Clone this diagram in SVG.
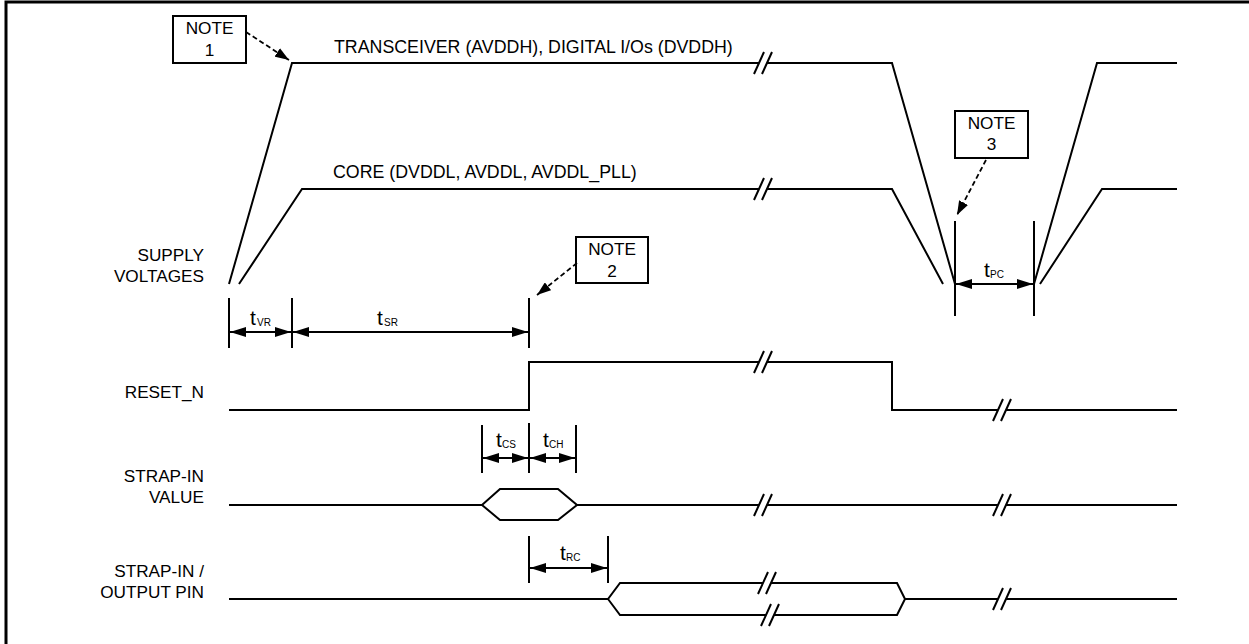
<svg xmlns="http://www.w3.org/2000/svg" width="1249" height="644" viewBox="0 0 1249 644">
<style>
.w{fill:none;stroke:#000;stroke-width:2;stroke-linejoin:miter}
.m{fill:none;stroke:#000;stroke-width:2}
.d{fill:none;stroke:#000;stroke-width:1.8;stroke-dasharray:5,3}
.dim{fill:none;stroke:#000;stroke-width:2;marker-start:url(#ah);marker-end:url(#ah)}
.box{fill:#fff;stroke:#000;stroke-width:2}
text{font-family:"Liberation Sans",Arial,sans-serif;font-size:17.2px;fill:#000}
.top{font-size:17.8px}
.r{text-anchor:end}
.c{text-anchor:middle}
.t{font-size:21px}
.sub{font-size:10px}
</style>
<defs>
<marker id="ah" viewBox="0 0 16 10" refX="16" refY="5" markerWidth="16" markerHeight="10" markerUnits="userSpaceOnUse" orient="auto-start-reverse">
<path d="M0,0 L16,5 L0,10 Z" fill="#000"/>
</marker>
<marker id="ad" viewBox="0 0 14 10" refX="14" refY="5" markerWidth="14" markerHeight="10" markerUnits="userSpaceOnUse" orient="auto">
<path d="M0,0 L14,5 L0,10 Z" fill="#000"/>
</marker>
<g id="brk"><path d="M-9,11 L1,-11 M-1,11 L9,-11" fill="none" stroke="#000" stroke-width="2"/></g>
</defs>
<rect x="0" y="0" width="1249" height="644" fill="#fff"/>
<path d="M6,644 V2 H1249" fill="none" stroke="#000" stroke-width="3"/>

<g id="labels">
<text class="r" x="204" y="261">SUPPLY</text>
<text class="r" x="204" y="282">VOLTAGES</text>
<text class="r" x="204" y="398">RESET_N</text>
<text class="r" x="204" y="482">STRAP-IN</text>
<text class="r" x="204" y="503">VALUE</text>
<text class="r" x="204" y="577">STRAP-IN /</text>
<text class="r" x="204" y="598">OUTPUT PIN</text>
<text class="top" x="334" y="53">TRANSCEIVER (AVDDH), DIGITAL I/Os (DVDDH)</text>
<text class="top" x="333" y="178">CORE (DVDDL, AVDDL, AVDDL_PLL)</text>
</g>

<g id="supply">
<path class="w" d="M229,284 L292,63 H759 M767,63 H892 L955,284"/>
<path class="w" d="M1034,284 L1097,63 H1177"/>
<path class="w" d="M239,284 L302,189 H759 M767,189 H892 L943,284"/>
<path class="w" d="M1040,284 L1102,189 H1177"/>
<use href="#brk" x="763" y="63"/>
<use href="#brk" x="763" y="189"/>
</g>

<g id="reset">
<path class="w" d="M229,410 H529 V362 H759 M767,362 H892 V410 H998 M1006,410 H1177"/>
<use href="#brk" x="763" y="362"/>
<use href="#brk" x="1002" y="410"/>
</g>

<g id="strapvalue">
<path class="w" d="M229,505 H482 L500,489 H558 L577,505 L558,520 H500 L482,505 M577,505 H759 M767,505 H998 M1006,505 H1177"/>
<use href="#brk" x="763" y="505"/>
<use href="#brk" x="1002" y="505"/>
</g>

<g id="strappin">
<path class="w" d="M229,599 H608 L620,583 H763 M771,583 H897 L905,599 L897,615 H774 M766,615 H620 L608,599 M905,599 H998 M1006,599 H1177"/>
<use href="#brk" x="767" y="583"/>
<use href="#brk" x="770" y="615"/>
<use href="#brk" x="1002" y="599"/>
</g>

<g id="timing">
<path class="m" d="M229,298 V348 M292,298 V348 M529,298 V348"/>
<line class="dim" x1="230" y1="332" x2="291" y2="332"/>
<line class="dim" x1="293" y1="332" x2="528" y2="332"/>
<text class="t" x="250" y="325">t</text><text class="sub" x="257" y="326">VR</text>
<text class="t" x="377" y="325">t</text><text class="sub" x="384" y="326">SR</text>

<path class="m" d="M955,221 V316 M1034,221 V316"/>
<line class="dim" x1="956" y1="284" x2="1033" y2="284"/>
<text class="t" x="984" y="277">t</text><text class="sub" x="990" y="278">PC</text>

<path class="m" d="M482,425 V473 M529,423 V473 M576,425 V473"/>
<line class="dim" x1="483" y1="458" x2="528" y2="458"/>
<line class="dim" x1="530" y1="458" x2="575" y2="458"/>
<text class="t" x="496" y="447">t</text><text class="sub" x="502" y="448">CS</text>
<text class="t" x="543" y="447">t</text><text class="sub" x="549" y="448">CH</text>

<path class="m" d="M529,536 V583 M608,536 V583"/>
<line class="dim" x1="530" y1="568" x2="607" y2="568"/>
<text class="t" x="560" y="560">t</text><text class="sub" x="566" y="561">RC</text>
</g>

<g id="note1">
<rect class="box" x="173" y="16" width="73" height="47"/>
<text class="c" x="209.5" y="34">NOTE</text>
<text class="c" x="209.5" y="56">1</text>
</g>
<g id="note2">
<rect class="box" x="576" y="237" width="72" height="46"/>
<text class="c" x="612" y="255">NOTE</text>
<text class="c" x="612" y="277">2</text>
</g>
<g id="note3">
<rect class="box" x="955" y="111" width="73" height="47"/>
<text class="c" x="991.5" y="129">NOTE</text>
<text class="c" x="991.5" y="150">3</text>
</g>

<g id="connectors">
<line class="d" x1="246" y1="32" x2="289" y2="60" marker-end="url(#ad)"/>
<line class="d" x1="577" y1="263" x2="537" y2="295" marker-end="url(#ad)"/>
<line class="d" x1="986" y1="160" x2="957" y2="215" marker-end="url(#ad)"/>
</g>
</svg>
